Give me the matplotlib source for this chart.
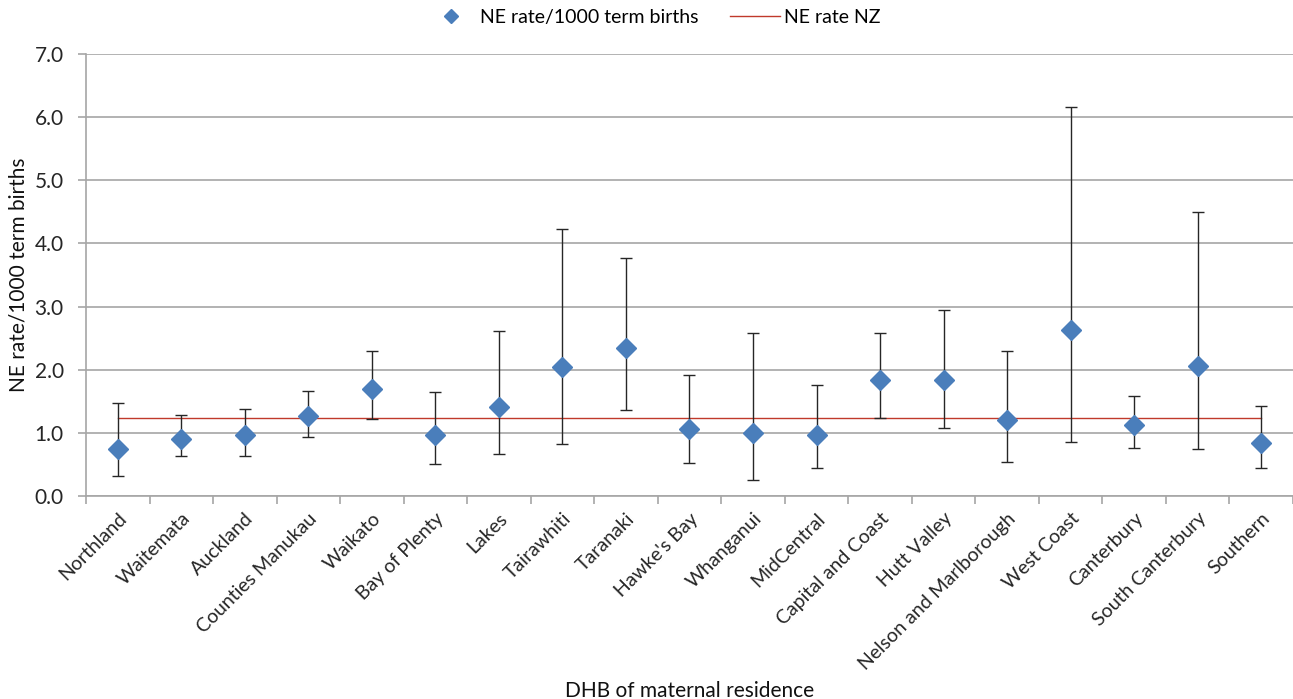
import matplotlib
matplotlib.use("Agg")
import matplotlib.pyplot as plt
import numpy as np

categories = ["Northland", "Waitemata", "Auckland", "Counties Manukau", "Waikato",
              "Bay of Plenty", "Lakes", "Tairawhiti", "Taranaki", "Hawke's Bay",
              "Whanganui", "MidCentral", "Capital and Coast", "Hutt Valley",
              "Nelson and Marlborough", "West Coast", "Canterbury",
              "South Canterbury", "Southern"]
rate = [0.74, 0.91, 0.96, 1.26, 1.70, 0.96, 1.41, 2.05, 2.35, 1.06,
        1.00, 0.96, 1.83, 1.84, 1.21, 2.63, 1.12, 2.06, 0.84]
upper = [1.47, 1.29, 1.38, 1.66, 2.30, 1.65, 2.62, 4.23, 3.77, 1.91,
         2.58, 1.76, 2.58, 2.95, 2.30, 6.16, 1.58, 4.50, 1.42]
lower = [0.31, 0.63, 0.64, 0.93, 1.22, 0.50, 0.67, 0.82, 1.36, 0.52,
         0.26, 0.45, 1.24, 1.07, 0.54, 0.85, 0.76, 0.75, 0.45]
nz_rate = 1.24
yticks = [0.0, 1.0, 2.0, 3.0, 4.0, 5.0, 6.0, 7.0]

plt.rcParams['font.family'] = ['Lato', 'DejaVu Sans']

fig = plt.figure(figsize=(12.93, 6.99), dpi=100)
ax = fig.add_axes([0.0665, 0.2904, 0.9335, 0.6323])

x = np.arange(len(categories))
r = np.array(rate)
err = np.vstack([r - np.array(lower), np.array(upper) - r])

ax.plot([x[0], x[-1]], [nz_rate, nz_rate], color='#C0392B', lw=1.0, zorder=2,
        label='NE rate NZ')
ax.errorbar(x, r, yerr=err, fmt='none', ecolor='#262626', elinewidth=1.0,
            capsize=4, capthick=1.0, zorder=3)
ax.plot(x, r, linestyle='none', marker='D', markersize=10, color='#4A7EBB',
        markeredgecolor='#4A7EBB', zorder=4, label='NE rate/1000 term births')

ax.set_xlim(-0.5, len(categories) - 0.5)
ax.set_ylim(0, 7)
ax.set_yticks(yticks)
ax.set_yticklabels([f"{v:.1f}" for v in yticks], fontsize=15, color='#262626')
ax.yaxis.grid(True, color='#A6A6A6', lw=1.2)
ax.set_axisbelow(True)
ax.tick_params(axis='y', length=6, width=1.2, color='#A6A6A6', pad=10)

ax.set_xticks(x)
ax.set_xticklabels(categories, rotation=45, ha='right', rotation_mode='anchor',
                   fontsize=14, color='#262626')
ax.tick_params(axis='x', length=0, pad=10)
ax.set_xticks(np.arange(-0.5, len(categories), 1.0), minor=True)
ax.tick_params(axis='x', which='minor', length=6, color='#A6A6A6', width=1.2)

for s in ['top', 'right']:
    ax.spines[s].set_visible(False)
for s in ['left', 'bottom']:
    ax.spines[s].set_color('#A6A6A6')
    ax.spines[s].set_linewidth(1.2)

ax.set_ylabel('NE rate/1000 term births', fontsize=15, color='#111111')
ax.yaxis.set_label_coords(-0.048, 0.5)
ax.set_xlabel('DHB of maternal residence', fontsize=15, color='#111111')
ax.xaxis.set_label_coords(0.5, -0.418)

handles, labels = ax.get_legend_handles_labels()
leg = fig.legend(handles[::-1], labels[::-1], loc='upper center',
                 bbox_to_anchor=(0.505, 1.012), ncol=2, frameon=False,
                 fontsize=14, handlelength=2.6, handletextpad=0.2,
                 columnspacing=1.6, markerscale=0.7)

fig.savefig('out.png', dpi=100)
